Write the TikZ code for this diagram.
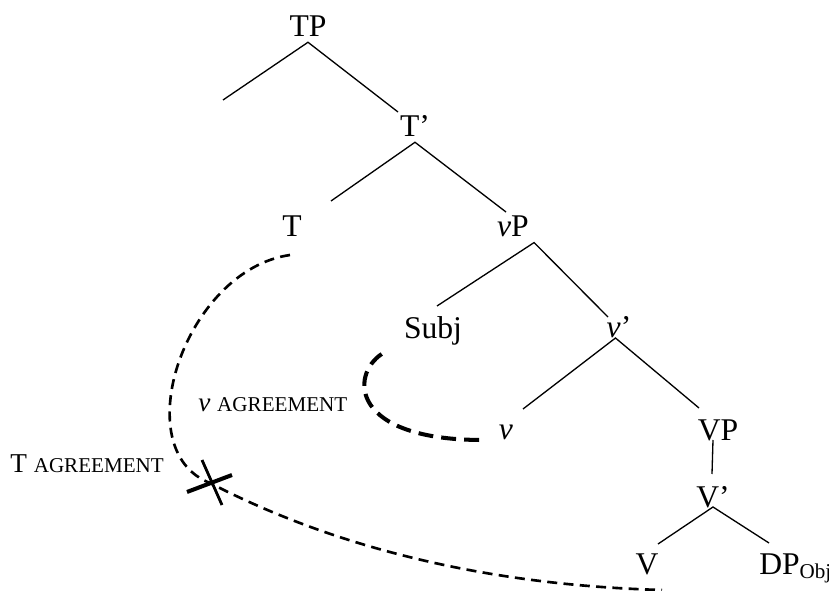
\documentclass[tikz,border=0pt]{standalone}
\usepackage{fontspec}
\setmainfont{Liberation Serif}
\newcommand\catsize{\fontsize{18}{20}\selectfont}
\newcommand\lblsize{\fontsize{15.5}{17}\selectfont}
\newcommand\agrsize{\fontsize{12}{13}\selectfont}
\tikzset{
  cat/.style={anchor=base, inner sep=0pt, outer sep=3pt, font=\catsize},
  lbl/.style={anchor=base west, inner sep=0pt, font=\lblsize},
  branch/.style={line width=0.75pt},
  agreeT/.style={line width=1.5pt, dash pattern=on 5.7pt off 3.6pt},
  agreev/.style={line width=2.3pt, dash pattern=on 8.5pt off 4.6pt},
}

\begin{document}
\begin{tikzpicture}[x=0.02cm, y=-0.02cm]
\useasboundingbox (0,0) rectangle (829,591);
% categories
\node[cat] (TP) at (308,37) {TP};
\node[cat] (Tbar) at (415,137) {T'};
\node[cat] (T) at (292,237) {T};
\node[cat] (vP) at (513,237) {\textit{v}P};
\node[cat] (Subj) at (433,339) {Subj};
\node[cat] (vbar) at (619,338) {\textit{v}'};
\node[cat] (v) at (506,439) {\textit{v}};
\node[cat] (VP) at (718,440) {VP};
\node[cat] (Vbar) at (713,507) {V'};
\node[cat] (V) at (647,574) {V};
\node[cat, anchor=base west] (DP) at (754,574) {DP{\fontsize{12}{13}\selectfont\raisebox{-2.8pt}{Obj}}};
% branch ends
\coordinate (TPl) at (223,100);
\coordinate (Tbarup) at (398,112);
\coordinate (Tup) at (331,201);
\coordinate (vPup) at (506,212);
\coordinate (Subjup) at (437,306);
\coordinate (vbarup) at (608,317);
\coordinate (vup) at (523,409);
\coordinate (VPup) at (699,408);
\coordinate (Vbarup) at (712,474);
\coordinate (Vup) at (658,544);
\coordinate (DPup) at (769,543);
\draw[branch] (TPl) -- (TP.south) -- (Tbarup);
\draw[branch] (Tup) -- (Tbar.south) -- (vPup);
\draw[branch] (Subjup) -- (vP.south east) -- (vbarup);
\draw[branch] (vup) -- ([xshift=-2]vbar.base) -- (VPup);
\draw[branch] (VP.base -| Vbar.base) -- (Vbarup);
\draw[branch] (Vup) -- (Vbar.base) -- (DPup);
% agreement
\coordinate (cross) at (210,483);
\draw[agreeT] ([shift={(-2,18)}]T.base) .. controls (185,270) and (125,450) .. (cross)
  .. controls (330,545) and (480,585) .. ([shift={(15,16)}]V.base);
\draw[line width=2.3pt] ([shift={(-23,9)}]cross) -- ([shift={(22,-8)}]cross);
\draw[line width=1.6pt] ([shift={(-8,-23)}]cross) -- ([shift={(12,22)}]cross);
\draw[agreev] ([shift={(-17,3)}]Subj.south west) .. controls (350,375) and (350,440) .. ([shift={(-11,1)}]v.base west);
\node[lbl] (Tagr) at (10,473) {T {\agrsize AGREEMENT}};
\node[lbl] (vagr) at (198,412) {\textit{v} {\agrsize AGREEMENT}};
\end{tikzpicture}
\end{document}
